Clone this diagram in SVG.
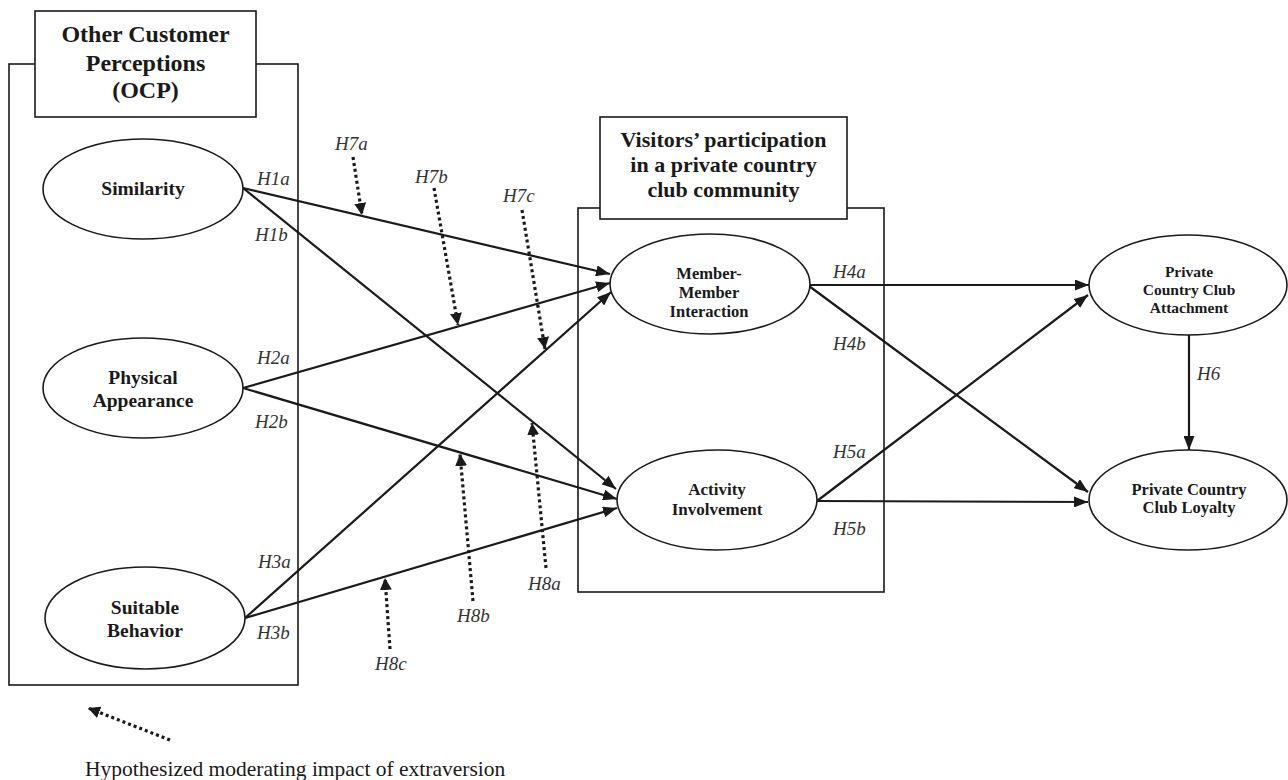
<svg xmlns="http://www.w3.org/2000/svg" width="1288" height="780" viewBox="0 0 1288 780">
<defs>
<marker id="ah" markerUnits="userSpaceOnUse" markerWidth="15" markerHeight="11" refX="14" refY="5.5" orient="auto"><path d="M0,0 L14,5.5 L0,11 z" fill="#1a1a1a"/></marker>
<marker id="dh" markerUnits="userSpaceOnUse" markerWidth="13" markerHeight="12" refX="12" refY="6" orient="auto"><path d="M0,0 L12,6 L0,12 z" fill="#1a1a1a"/></marker>
<style>
.box{fill:#fff;stroke:#1a1a1a;stroke-width:1.6}
.ell{fill:#fff;stroke:#1a1a1a;stroke-width:1.6}
.ln{stroke:#1a1a1a;stroke-width:2.2;fill:none;marker-end:url(#ah)}
.dt{stroke:#1a1a1a;stroke-width:3.2;stroke-dasharray:3 3;fill:none;marker-end:url(#dh)}
.t{font-family:"Liberation Serif","Times New Roman",serif;font-weight:bold;fill:#1a1a1a;text-anchor:middle}
.h{font-family:"Liberation Serif","Times New Roman",serif;font-style:italic;font-size:19px;fill:#333}
</style>
</defs>
<rect width="1288" height="780" fill="#fff"/>
<g id="ocp-group">
<rect class="box" x="9" y="64" width="289" height="621"/>
<rect class="box" x="35" y="11" width="221" height="106"/>
<text class="t" font-size="24" x="145.5" y="42">Other Customer</text>
<text class="t" font-size="24" x="145.5" y="71">Perceptions</text>
<text class="t" font-size="24" x="145.5" y="98">(OCP)</text>
</g>
<g id="visitors-group">
<rect class="box" x="578" y="208" width="306" height="384"/>
<rect class="box" x="600" y="117" width="247" height="102"/>
<text class="t" font-size="22" x="723.5" y="147">Visitors’ participation</text>
<text class="t" font-size="22" x="723.5" y="172">in a private country</text>
<text class="t" font-size="22" x="723.5" y="197">club community</text>
</g>
<g id="connectors">
<line class="ln" x1="243" y1="188" x2="610" y2="274"/>
<line class="ln" x1="243" y1="188" x2="616" y2="489"/>
<line class="ln" x1="243" y1="388" x2="610" y2="283"/>
<line class="ln" x1="243" y1="388" x2="617" y2="499"/>
<line class="ln" x1="245" y1="618" x2="611" y2="292"/>
<line class="ln" x1="245" y1="618" x2="617" y2="508"/>
<line class="ln" x1="809" y1="285" x2="1089" y2="285"/>
<line class="ln" x1="809" y1="286" x2="1088" y2="492"/>
<line class="ln" x1="817" y1="501" x2="1088" y2="295"/>
<line class="ln" x1="817" y1="501" x2="1088" y2="502"/>
<line class="ln" x1="1189" y1="334" x2="1189" y2="450"/>
<line class="dt" x1="353" y1="157" x2="362" y2="215"/>
<line class="dt" x1="434" y1="188" x2="458" y2="325"/>
<line class="dt" x1="522" y1="210" x2="545" y2="349"/>
<line class="dt" x1="546" y1="568" x2="532" y2="423"/>
<line class="dt" x1="473" y1="601" x2="460" y2="454"/>
<line class="dt" x1="390" y1="649" x2="385" y2="578"/>
<line class="dt" x1="170" y1="740" x2="88" y2="708"/>
</g>
<g id="labels">
<text class="h" x="257" y="185">H1a</text>
<text class="h" x="255" y="241">H1b</text>
<text class="h" x="257" y="364">H2a</text>
<text class="h" x="255" y="428">H2b</text>
<text class="h" x="258" y="568">H3a</text>
<text class="h" x="257" y="639">H3b</text>
<text class="h" x="833" y="278">H4a</text>
<text class="h" x="833" y="350">H4b</text>
<text class="h" x="833" y="458">H5a</text>
<text class="h" x="833" y="535">H5b</text>
<text class="h" x="1197" y="380">H6</text>
<text class="h" x="335" y="150">H7a</text>
<text class="h" x="415" y="183">H7b</text>
<text class="h" x="503" y="202">H7c</text>
<text class="h" x="528" y="590">H8a</text>
<text class="h" x="457" y="622">H8b</text>
<text class="h" x="375" y="670">H8c</text>
</g>
<g id="similarity">
<ellipse class="ell" cx="143" cy="189" rx="100" ry="50"/>
<text class="t" font-size="19.5" x="143" y="195">Similarity</text>
</g>
<g id="physical-appearance">
<ellipse class="ell" cx="143" cy="388" rx="100" ry="50"/>
<text class="t" font-size="19.5" x="143" y="384">Physical</text>
<text class="t" font-size="19.5" x="143" y="407">Appearance</text>
</g>
<g id="suitable-behavior">
<ellipse class="ell" cx="145" cy="618" rx="100" ry="51"/>
<text class="t" font-size="19.5" x="145" y="614">Suitable</text>
<text class="t" font-size="19.5" x="145" y="637">Behavior</text>
</g>
<g id="member-interaction">
<ellipse class="ell" cx="710" cy="284" rx="100" ry="50"/>
<text class="t" font-size="16.5" x="709" y="279">Member-</text>
<text class="t" font-size="16.5" x="709" y="298">Member</text>
<text class="t" font-size="16.5" x="709" y="317">Interaction</text>
</g>
<g id="activity-involvement">
<ellipse class="ell" cx="717" cy="500" rx="100" ry="50"/>
<text class="t" font-size="17" x="717" y="495">Activity</text>
<text class="t" font-size="17" x="717" y="515">Involvement</text>
</g>
<g id="club-attachment">
<ellipse class="ell" cx="1188" cy="285" rx="99" ry="50"/>
<text class="t" font-size="15.5" x="1189" y="277">Private</text>
<text class="t" font-size="15.5" x="1189" y="295">Country Club</text>
<text class="t" font-size="15.5" x="1189" y="313">Attachment</text>
</g>
<g id="club-loyalty">
<ellipse class="ell" cx="1188" cy="500" rx="99" ry="50"/>
<text class="t" font-size="16.5" x="1189" y="495">Private Country</text>
<text class="t" font-size="16.5" x="1189" y="513">Club Loyalty</text>
</g>
<g id="legend">
<text font-family="'Liberation Serif','Times New Roman',serif" font-size="21.5" fill="#1a1a1a" x="85" y="776">Hypothesized moderating impact of extraversion</text>
</g>
</svg>
